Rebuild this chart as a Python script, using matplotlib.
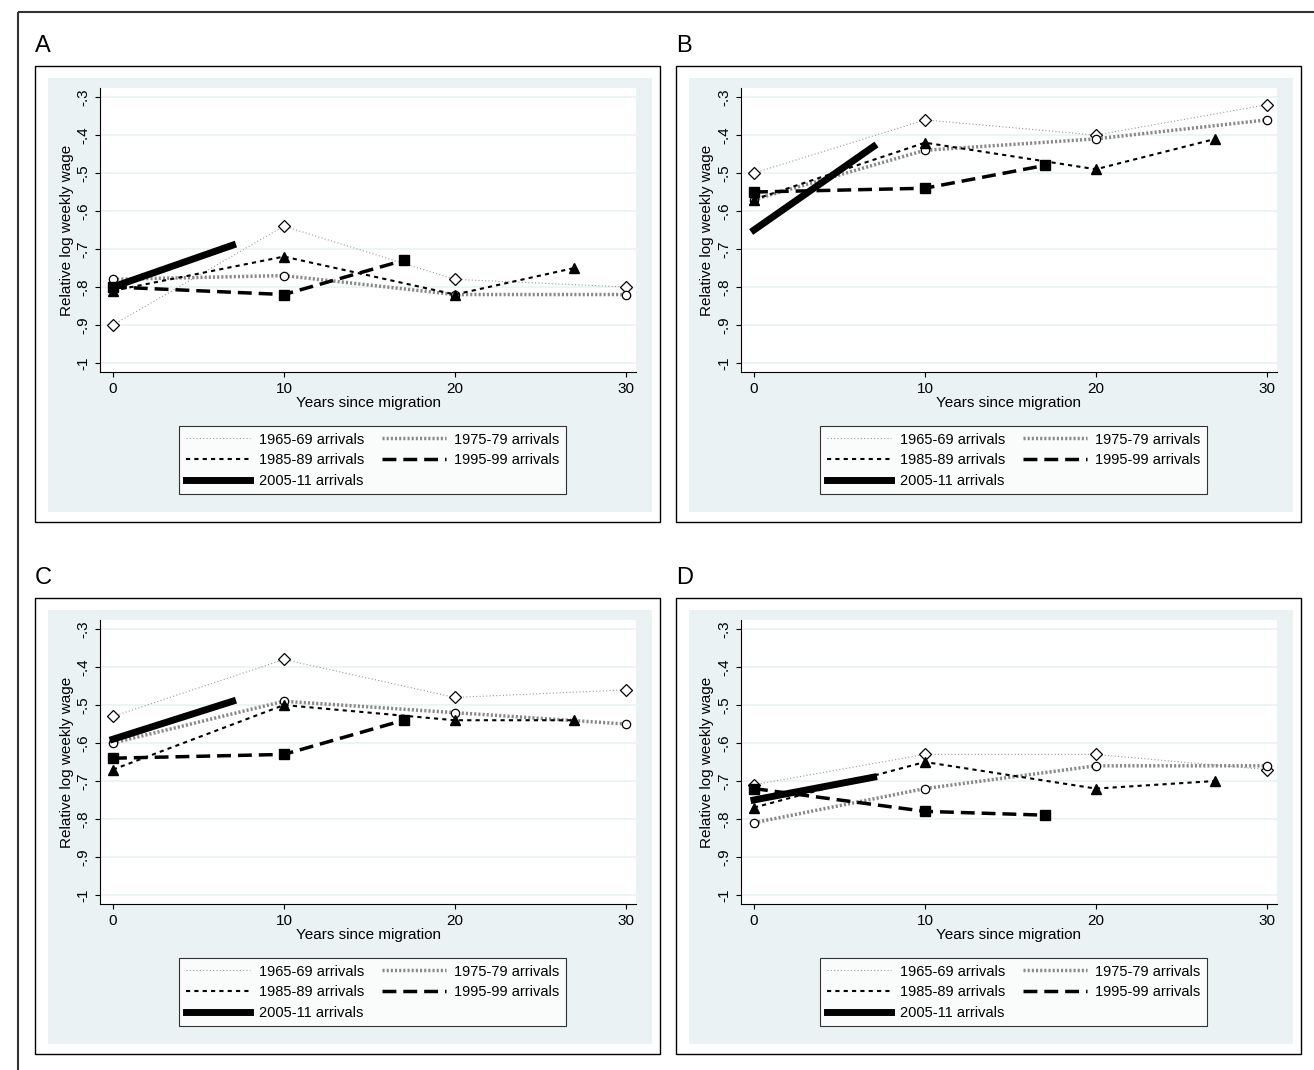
import matplotlib.pyplot as plt
from matplotlib.patches import Rectangle

W, H = 1314, 1070

years_full = [0, 10, 20, 30]
years_85 = [0, 10, 20, 27]
years_95 = [0, 10, 17]
years_05 = [0, 7]

panels = ["A", "B", "C", "D"]
wage_1965 = {"A": [-0.90, -0.64, -0.78, -0.80], "B": [-0.50, -0.36, -0.40, -0.32],
             "C": [-0.53, -0.38, -0.48, -0.46], "D": [-0.71, -0.63, -0.63, -0.67]}
wage_1975 = {"A": [-0.78, -0.77, -0.82, -0.82], "B": [-0.57, -0.44, -0.41, -0.36],
             "C": [-0.60, -0.49, -0.52, -0.55], "D": [-0.81, -0.72, -0.66, -0.66]}
wage_1985 = {"A": [-0.81, -0.72, -0.82, -0.75], "B": [-0.57, -0.42, -0.49, -0.41],
             "C": [-0.67, -0.50, -0.54, -0.54], "D": [-0.77, -0.65, -0.72, -0.70]}
wage_1995 = {"A": [-0.80, -0.82, -0.73], "B": [-0.55, -0.54, -0.48],
             "C": [-0.64, -0.63, -0.54], "D": [-0.72, -0.78, -0.79]}
wage_2005 = {"A": [-0.80, -0.69], "B": [-0.65, -0.43],
             "C": [-0.59, -0.49], "D": [-0.75, -0.69]}

yticks = [-1, -0.9, -0.8, -0.7, -0.6, -0.5, -0.4, -0.3]
ytick_labels = ["-1", "-.9", "-.8", "-.7", "-.6", "-.5", "-.4", "-.3"]

BLUE = "#eaf2f3"

fig = plt.figure(figsize=(W / 100, H / 100), dpi=100)
plt.rcParams['font.family'] = ['Liberation Sans', 'DejaVu Sans']


def px(x0, y0, x1, y1):
    return [x0 / W, 1 - y1 / H, (x1 - x0) / W, (y1 - y0) / H]


bg = fig.add_axes([0, 0, 1, 1])
bg.set_xlim(0, W)
bg.set_ylim(H, 0)
bg.axis("off")
bg.add_patch(Rectangle((18, 12), W, H, fill=False, lw=1.5, ec="#333333"))

offsets = {"A": (0, 0), "B": (641, 0), "C": (0, 532), "D": (641, 532)}

for p in panels:
    dx, dy = offsets[p]
    bg.add_patch(Rectangle((35 + dx, 66 + dy), 625, 456, fill=False, lw=1, ec="black"))
    bg.add_patch(Rectangle((48 + dx, 78 + dy), 604, 434, fc=BLUE, ec="none"))
    bg.text(35 + dx, 46 + dy, p, fontsize=17, va="center", ha="left")

    ax = fig.add_axes(px(100 + dx, 88 + dy, 636 + dx, 372 + dy))
    ax.set_xlim(-0.76, 30.6)
    ax.set_ylim(-1.024, -0.276)
    for s in ["top", "right"]:
        ax.spines[s].set_visible(False)
    ax.set_yticks(yticks)
    ax.set_yticklabels(ytick_labels, rotation=90, va="center")
    ax.set_xticks([0, 10, 20, 30])
    ax.tick_params(labelsize=11)
    ax.grid(axis="y", color=BLUE, lw=1.2)
    ax.set_axisbelow(True)
    ax.set_xlabel("Years since migration", fontsize=11, labelpad=0)
    ax.set_ylabel("Relative log weekly wage", fontsize=11, labelpad=2)

    h65, = ax.plot(years_full, wage_1965[p], color="#999999", ls=(0, (1, 2)), lw=0.8,
                   marker="D", ms=6, mfc="white", mec="black", mew=0.9)
    h75, = ax.plot(years_full, wage_1975[p], color="#888888", ls=(0, (0.6, 0.6)), lw=2.5,
                   marker="o", ms=6, mfc="white", mec="black", mew=0.9)
    h85, = ax.plot(years_85, wage_1985[p], color="black", ls=(0, (2, 2)), lw=1.5,
                   marker="^", ms=7, mfc="black", mec="black")
    h95, = ax.plot(years_95, wage_1995[p], color="black", ls=(0, (4, 2)), lw=2.5,
                   marker="s", ms=7, mfc="black", mec="black")
    h05, = ax.plot(years_05, wage_2005[p], color="black", ls="-", lw=5)

    # column-major order so rows read 1965/1975, 1985/1995, 2005
    handles = [h65, h85, h05, h75, h95]
    labels = ["1965-69 arrivals", "1985-89 arrivals", "2005-11 arrivals",
              "1975-79 arrivals", "1995-99 arrivals"]
    lax = fig.add_axes(px(172 + dx, 422 + dy, 568 + dx, 488 + dy))
    lax.axis("off")
    leg = lax.legend(handles, labels, ncol=2, loc="upper left", frameon=True,
                     fancybox=False, edgecolor="black", fontsize=10.5, handlelength=4.4,
                     handletextpad=0.6, columnspacing=1.2, borderpad=0.45,
                     labelspacing=0.45, bbox_to_anchor=(0, 1.05))
    leg.get_frame().set_linewidth(0.8)
    for h in leg.legend_handles:
        h.set_marker("")

fig.savefig("out.png", dpi=100, facecolor="white")
